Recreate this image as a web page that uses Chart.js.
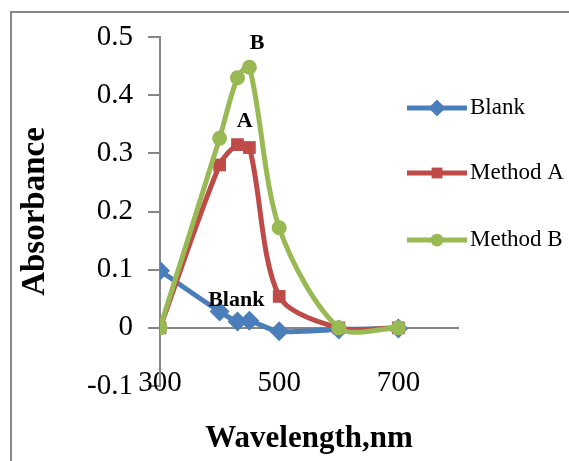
<!DOCTYPE html>
<html>
<head>
<meta charset="utf-8">
<script src="https://cdn.jsdelivr.net/npm/chart.js@4/dist/chart.umd.min.js"></script>
<style>
  html, body { margin: 0; padding: 0; background: #fff; }
  #wrap { width: 569px; height: 461px; position: relative; }
</style>
</head>
<body>
<div id="wrap"><canvas id="chart" width="569" height="461"></canvas></div>
<script>
// values
const wavelengths = [300, 400, 430, 450, 500, 600, 700];
const blank = [0.098, 0.028, 0.011, 0.012, -0.006, -0.003, -0.001];
const methodA = [0, 0.28, 0.315, 0.31, 0.054, 0, 0];
const methodB = [0, 0.326, 0.43, 0.448, 0.172, 0, 0];
const seriesNames = ["Blank", "Method A", "Method B"];
const xTicks = [300, 500, 700];
const peakLabels = [
  { text: "B", x: 463, y: 0.49 },
  { text: "A", x: 442, y: 0.355 },
  { text: "Blank", x: 428, y: 0.048 }
];

const colors = ["#4a7ebb", "#be4b48", "#98b954"];
const markers = ["rectRot", "rect", "circle"];
const radii = [10, 9, 7.5];
const axisGrey = "#868686";
const serif = "'Liberation Serif', 'Times New Roman', serif";

function toPoints(vals) {
  return vals.map((v, i) => ({ x: wavelengths[i], y: v }));
}

// outer frame, only the top and left edges show in the picture
const framePlugin = {
  id: "frame",
  beforeDraw(chart) {
    const ctx = chart.ctx;
    ctx.save();
    ctx.strokeStyle = axisGrey;
    ctx.lineWidth = 2;
    ctx.beginPath();
    ctx.moveTo(11, 470);
    ctx.lineTo(11, 12);
    ctx.lineTo(580, 12);
    ctx.stroke();
    ctx.restore();
  }
};

// "B", "A", "Blank" labels near the curves
const peakLabelPlugin = {
  id: "peakLabels",
  afterDatasetsDraw(chart) {
    const { ctx, scales } = chart;
    ctx.save();
    ctx.fillStyle = "#000";
    ctx.textAlign = "center";
    ctx.textBaseline = "middle";
    peakLabels.forEach(l => {
      ctx.font = "bold 22px " + serif;
      ctx.fillText(l.text, scales.x.getPixelForValue(l.x), scales.y.getPixelForValue(l.y));
    });
    ctx.restore();
  }
};

// legend drawn by hand: line with marker, then the name
const legendPlugin = {
  id: "sideLegend",
  afterDraw(chart) {
    const ctx = chart.ctx;
    const rows = [108, 173, 240];
    ctx.save();
    chart.data.datasets.forEach((ds, i) => {
      const y = rows[i];
      ctx.strokeStyle = ds.borderColor;
      ctx.lineWidth = 5;
      ctx.beginPath();
      ctx.moveTo(407, y);
      ctx.lineTo(467, y);
      ctx.stroke();
      ctx.fillStyle = ds.backgroundColor;
      Chart.helpers.drawPoint(ctx, {
        pointStyle: ds.pointStyle,
        radius: ds.pointRadius * 0.85,
        borderWidth: 0
      }, 437, y);
      ctx.fillStyle = "#000";
      ctx.font = "23px " + serif;
      ctx.textAlign = "left";
      ctx.textBaseline = "middle";
      ctx.fillText(ds.label, 470, y);
    });
    ctx.restore();
  }
};

new Chart(document.getElementById("chart"), {
  type: "scatter",
  data: {
    datasets: [blank, methodA, methodB].map((vals, i) => ({
      label: seriesNames[i],
      data: toPoints(vals),
      showLine: true,
      borderColor: colors[i],
      backgroundColor: colors[i],
      borderWidth: 5,
      pointStyle: markers[i],
      pointRadius: radii[i],
      pointBorderWidth: 0,
      tension: 0.3,
      order: 2 - i
    }))
  },
  options: {
    responsive: false,
    animation: false,
    devicePixelRatio: 1,
    layout: { padding: { left: 12, top: 37, right: 111, bottom: 75 } },
    plugins: { legend: { display: false }, tooltip: { enabled: false } },
    scales: {
      x: {
        type: "linear",
        min: 300,
        max: 800,
        position: { y: 0 },
        afterBuildTicks(scale) {
          scale.ticks = xTicks.map(v => ({ value: v }));
        },
        grid: { display: false },
        border: { color: axisGrey, width: 2 },
        ticks: { color: "#000", font: { family: serif, size: 29 }, padding: 30, maxRotation: 0 },
        title: {
          display: true,
          text: "Wavelength,nm",
          color: "#000",
          font: { family: serif, size: 31, weight: "bold" },
          padding: { top: -10, bottom: 0 }
        }
      },
      y: {
        min: -0.1,
        max: 0.5,
        afterFit(scale) { scale.width = 148; },
        grid: {
          drawOnChartArea: false,
          color: axisGrey,
          lineWidth: 2,
          tickLength: 12
        },
        border: { color: axisGrey, width: 2 },
        ticks: {
          stepSize: 0.1,
          color: "#000",
          font: { family: serif, size: 29 },
          padding: 15,
          callback: v => String(Number(v.toFixed(1)))
        },
        title: {
          display: true,
          text: "Absorbance",
          color: "#000",
          font: { family: serif, size: 33, weight: "bold" },
          padding: { top: 4, bottom: 0 }
        }
      }
    }
  },
  plugins: [framePlugin, peakLabelPlugin, legendPlugin]
});
</script>
</body>
</html>
